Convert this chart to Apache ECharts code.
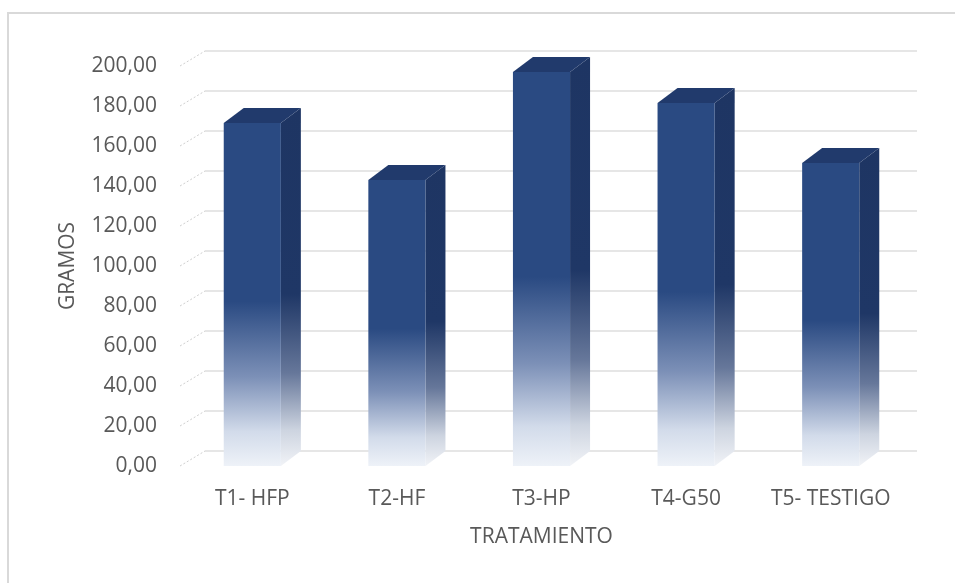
<!DOCTYPE html>
<html>
<head>
<meta charset="utf-8">
<title>Gramos por tratamiento</title>
<script src="https://cdn.jsdelivr.net/npm/echarts@6/dist/echarts.min.js"></script>
<style>
  html, body { margin: 0; padding: 0; background: #ffffff; }
  #chart { width: 955px; height: 583px; }
</style>
</head>
<body>
<div id="chart"></div>
<script>
// Treatment names and weight (grams) per treatment
const categories = ['T1- HFP', 'T2-HF', 'T3-HP', 'T4-G50', 'T5- TESTIGO'];
const grams = [171.5, 143, 197, 181.5, 151.5];
const tickValues = [0, 20, 40, 60, 80, 100, 120, 140, 160, 180, 200];

// Depth offset of the pseudo-3D columns and walls
const DX = 20, DY = 15;
const WALL_DX = 25;

const fmt = v => v.toFixed(2).replace('.', ',');
const textColor = '#595959';
const fontFamily = '"Open Sans", "Noto Sans", sans-serif';
const fontSize = 21;

const chart = echarts.init(document.getElementById('chart'), null, { renderer: 'canvas' });

function grad(stops) {
  return { type: 'linear', x: 0, y: 0, x2: 0, y2: 1, colorStops: stops.map(s => ({ offset: s[0], color: s[1] })) };
}

const frontFill = grad([[0, '#2a4a82'], [0.52, '#2a4a82'], [0.74, '#7c90b7'], [0.9, '#d2dbea'], [1, '#eef2f8']]);
const sideFill = grad([[0, '#1e3563'], [0.52, '#1f3766'], [0.74, '#66779a'], [0.9, '#cdd4e0'], [1, '#f1f3f7']]);
const topFill = '#213a6c';

const option = {
  animation: false,
  backgroundColor: '#ffffff',
  graphic: [{
    type: 'rect',
    shape: { x: 8, y: 13, width: 1200, height: 1200 },
    style: { fill: 'none', stroke: '#d9d9d9', lineWidth: 2 },
    silent: true
  }],
  grid: [
    // front plane: labels and columns
    { left: 180, right: 52, top: 66, bottom: 117 },
    // back wall: gridlines
    { left: 205, right: 38, top: 51, bottom: 132 }
  ],
  xAxis: [{
    type: 'category', gridIndex: 0, data: categories,
    axisLine: { show: false }, axisTick: { show: false },
    axisLabel: { color: textColor, fontSize: fontSize, fontFamily: fontFamily, margin: 23, interval: 0 },
    name: 'TRATAMIENTO', nameLocation: 'middle', nameGap: 61,
    nameTextStyle: { color: textColor, fontSize: fontSize, fontFamily: fontFamily }
  }, {
    type: 'category', gridIndex: 1, data: categories, show: false
  }],
  yAxis: [{
    type: 'value', gridIndex: 0, min: 0, max: 200, interval: 20,
    axisLine: { show: false }, axisTick: { show: false }, splitLine: { show: false },
    axisLabel: { color: textColor, fontSize: fontSize, fontFamily: fontFamily, margin: 23, formatter: v => fmt(v) },
    name: 'GRAMOS', nameLocation: 'middle', nameGap: 101, nameRotate: 90,
    nameTextStyle: { color: textColor, fontSize: fontSize, fontFamily: fontFamily }
  }, {
    type: 'value', gridIndex: 1, min: 0, max: 200, interval: 20,
    axisLine: { show: false }, axisTick: { show: false }, axisLabel: { show: false },
    splitLine: { show: true, lineStyle: { color: '#e6e6e6', width: 2 } }
  }],
  series: [{
    // dashed connectors from the front axis to the back wall gridlines
    type: 'custom',
    xAxisIndex: 0, yAxisIndex: 0,
    data: tickValues.map(v => [0, v]),
    silent: true,
    z: 1,
    renderItem(params, api) {
      const cs = params.coordSys;
      const y = api.coord([0, api.value(1)])[1];
      return {
        type: 'line',
        shape: { x1: cs.x, y1: y, x2: cs.x + WALL_DX, y2: y - DY },
        style: { stroke: '#d0d0d0', lineWidth: 1, lineDash: [2, 2] }
      };
    }
  }, {
    // pseudo-3D columns
    type: 'custom',
    xAxisIndex: 0, yAxisIndex: 0,
    data: grams.map((g, i) => [i, g]),
    z: 3,
    renderItem(params, api) {
      const idx = api.value(0);
      const base = api.coord([idx, 0]);
      const top = api.coord([idx, api.value(1)]);
      const band = api.size([1, 0])[0];
      const w = band * 0.395;
      const xl = base[0] - w / 2, xr = base[0] + w / 2;
      const yt = top[1], yb = base[1];
      return {
        type: 'group',
        children: [{
          type: 'polygon',
          shape: { points: [[xr, yt], [xr + DX, yt - DY], [xr + DX, yb - DY], [xr, yb]] },
          style: { fill: sideFill }
        }, {
          type: 'polygon',
          shape: { points: [[xl, yt], [xl + DX, yt - DY], [xr + DX, yt - DY], [xr, yt]] },
          style: { fill: topFill }
        }, {
          type: 'rect',
          shape: { x: xl, y: yt, width: w, height: yb - yt },
          style: { fill: frontFill }
        }]
      };
    }
  }]
};

chart.setOption(option);
</script>
</body>
</html>
